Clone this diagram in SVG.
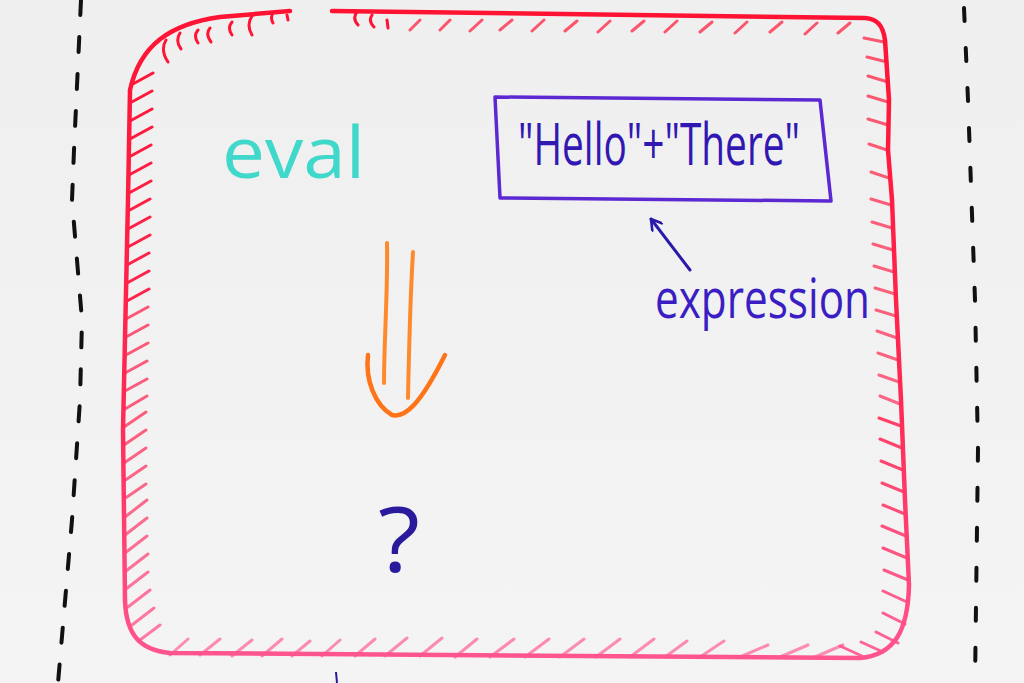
<svg xmlns="http://www.w3.org/2000/svg" width="1024" height="683" viewBox="0 0 1024 683">
  <defs>
    <linearGradient id="bg" x1="0" y1="0" x2="0" y2="1">
      <stop offset="0" stop-color="#efefef"/>
      <stop offset="1" stop-color="#f4f4f4"/>
    </linearGradient>
    <linearGradient id="redgrad" x1="0" y1="0" x2="0" y2="683" gradientUnits="userSpaceOnUse">
      <stop offset="0" stop-color="#ff1232"/>
      <stop offset="0.6" stop-color="#ff2a55"/>
      <stop offset="1" stop-color="#ff5a94"/>
    </linearGradient>
    <marker id="ah" viewBox="0 0 14 14" refX="12" refY="7" markerWidth="14" markerHeight="14" markerUnits="userSpaceOnUse" orient="auto">
      <path d="M2 1 L12 7 L2 13" fill="none" stroke="#2a1aa8" stroke-width="2.6" stroke-linecap="round" stroke-linejoin="round"/>
    </marker>
  </defs>
  <style>
    .dash{fill:none;stroke:#111;stroke-width:4;stroke-linecap:round}
    .border{fill:none;stroke:url(#redgrad);stroke-width:4.5;stroke-linecap:round;stroke-linejoin:round}
    .hatch{fill:none;stroke:url(#redgrad);stroke-width:3;stroke-linecap:round}
    .hand{font-family:"Open Sans","DejaVu Sans",sans-serif}
  </style>
  <rect width="1024" height="683" fill="url(#bg)"/>

  <!-- whiteboard dashed guide lines -->
  <path class="dash" d="M81 0 L74 150 L72 200 L82 320 L80 400 L72 520 L58 683" stroke-dasharray="15 22"/>
  <path class="dash" d="M964 8 L968 100 L975 300 L978 450 L975 683" stroke-dasharray="13 27"/>

  <!-- red hatched frame -->
  <g id="frame">
    <path class="border" d="M290 11 L220 17 C170 24 140 45 130 90 L128 200 L123 430 L125 600 C126 635 140 650 170 653 L860 658 C895 655 908 630 909 585 L905 500 L901 400 L896 300 L892 200 L888 150 L889 100 L885 40 C883 25 877 19 865 18 L332 11"/>
    <path class="hatch" d="M166 40 q-6 10 2 22 M180 33 q-5 8 1 16 M198 30 q-5 6 0 13 M210 28 q-5 6 1 14 M232 22 q-5 6 0 13 M252 16 q-6 9 0 19 M273 13 q-3 5 0 10 M287 15 l1 5 M357 12 q-5 6 1 13 M372 15 q-4 6 2 12 M387 20 l1 8"/>
    <path class="hatch" stroke-width="2" opacity="0.7" d="M410 30 l10 -10 M440 30 l10 -10 M470 31 l12 -11 M500 30 l12 -10 M532 31 l12 -11 M565 31 l12 -10 M598 32 l12 -11 M632 31 l12 -10 M665 32 l12 -11 M700 32 l12 -10 M735 33 l12 -11 M770 32 l12 -10 M805 34 l12 -11 M838 33 l12 -10"/>
    <path class="hatch" stroke-width="3.5" d="M131 85 l22 -12 M130 103 l22 -12 M130 121 l22 -12 M130 139 l22 -12 M129 157 l22 -12 M129 175 l22 -12 M129 193 l22 -12 M128 211 l22 -12 M128 229 l22 -12 M128 247 l22 -12 M127 265 l22 -12 M127 283 l22 -12 M127 301 l22 -12"/>
    <path class="hatch" stroke-width="3" opacity="0.75" d="M126 319 l22 -12 M126 337 l22 -12 M126 355 l22 -12 M125 373 l22 -12 M125 391 l22 -12 M125 409 l22 -13 M124 427 l22 -15 M124 445 l22 -15 M124 463 l22 -15 M124 481 l22 -15 M124 499 l22 -15 M125 517 l22 -17 M125 535 l22 -17 M125 553 l22 -17 M126 571 l22 -17 M126 589 l22 -17 M128 607 l22 -17 M132 625 l22 -17 M140 640 l20 -15"/>
    <path class="hatch" stroke-width="2" opacity="0.7" d="M884 42 l-20 -4 M887 62 l-20 -5 M888 82 l-20 -6 M888 102 l-20 -6 M888 125 l-20 -6 M887 150 l-18 -6 M889 178 l-18 -6 M891 205 l-20 -6 M892 228 l-20 -6 M893 250 l-20 -6 M894 272 l-20 -6 M895 294 l-20 -6 M896 316 l-20 -6 M897 338 l-20 -7 M898 360 l-20 -7 M899 382 l-20 -7 M900 404 l-20 -8"/>
    <path class="hatch" stroke-width="3.2" opacity="0.9" d="M901 426 l-22 -8 M902 448 l-22 -9 M903 470 l-22 -9 M904 492 l-22 -9 M905 514 l-22 -9 M906 536 l-24 -10 M907 558 l-24 -10 M908 580 l-24 -10 M907 602 l-24 -11 M905 624 l-22 -11 M898 643 l-22 -11 M883 652 l-22 -10 M862 656 l-22 -10"/>
    <path class="hatch" stroke-width="2.6" opacity="0.65" d="M170 655 l18 -16 M200 655 l20 -16 M232 656 l20 -16 M262 656 l20 -17 M292 656 l18 -15 M322 656 l18 -16 M355 656 l20 -17 M385 656 l22 -18 M420 656 l22 -18 M455 657 l22 -18 M490 657 l24 -18 M525 657 l24 -18 M560 657 l24 -18 M596 657 l24 -18 M630 657 l24 -18 M665 657 l22 -16 M700 657 l24 -16 M740 657 l28 -12 M780 657 l28 -12 M815 657 l28 -12"/>
  </g>

  <!-- nodes -->
  <g id="eval">
    <text class="hand" x="222" y="178" font-size="72" fill="#3fd8ca" textLength="143" lengthAdjust="spacingAndGlyphs">eval</text>
  </g>

  <g id="expression-box">
    <path d="M495 97 L820 100 L831 201 L500 198 Z" fill="none" stroke="#5b28d2" stroke-width="3.5" stroke-linejoin="round"/>
    <text class="hand" x="518" y="165" font-size="58" fill="#3218b2" textLength="282" lengthAdjust="spacingAndGlyphs">"Hello"+"There"</text>
  </g>

  <g id="expression-label">
    <text class="hand" x="655" y="318" font-size="54" fill="#3a1ec4" textLength="215" lengthAdjust="spacingAndGlyphs">expression</text>
  </g>

  <g id="result">
    <text class="hand" x="378" y="572" font-size="90" fill="#2a1a9c" textLength="42" lengthAdjust="spacingAndGlyphs">?</text>
  </g>

  <!-- connectors -->
  <g id="connectors">
    <path d="M690 270 L651 219" fill="none" stroke="#2a1aa8" stroke-width="3" stroke-linecap="round" marker-end="url(#ah)"/>
    <g fill="none" stroke="#ff8a2c" stroke-width="4" stroke-linecap="round">
      <path d="M387 243 C388 290 384 340 384 383"/>
      <path d="M413 252 C410 300 409 350 408 398"/>
      <path d="M368 355 C365 380 375 405 392 415 C405 418 420 405 445 355" stroke="#ff7418" stroke-width="4.5"/>
    </g>
    <path d="M336 672 L337 683" fill="none" stroke="#2a1a9c" stroke-width="2"/>
  </g>
</svg>
